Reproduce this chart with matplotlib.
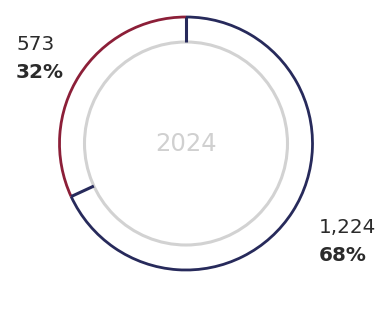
import matplotlib
matplotlib.use("Agg")
import matplotlib.pyplot as plt
from matplotlib.patches import Arc, Circle
import numpy as np

year = "2024"
categories = ["Navy segment", "Red segment"]
values = [1224, 573]
value_labels = ["1,224", "573"]
pct_labels = ["68%", "32%"]
colors = ["#272a5b", "#8c1f38"]
inner_color = "#d2d2d2"

W, H = 377, 332
fig = plt.figure(figsize=(W / 100, H / 100), dpi=100)
ax = fig.add_axes([0, 0, 1, 1])
ax.set_xlim(0, W)
ax.set_ylim(0, H)
ax.set_aspect("equal")
ax.axis("off")

cx, cy = 186, H - 143.5
r_out, r_in = 126.5, 101.5

# inner reference ring
ax.add_patch(Circle((cx, cy), r_in, fill=False, ec=inner_color, lw=2.2))

# outer ring segments; first segment runs clockwise from 12 o'clock
total = sum(values)
start = 90.0
for v, c in zip(values, colors):
    sweep = 360.0 * v / total
    end = start - sweep
    ax.add_patch(Arc((cx, cy), 2 * r_out, 2 * r_out, theta1=end, theta2=start,
                     color=c, lw=2.0))
    start = end

# separators at the boundaries between segments
ang = 90.0
for v in values:
    a = np.deg2rad(ang)
    ax.plot([cx + r_in * np.cos(a), cx + r_out * np.cos(a)],
            [cy + r_in * np.sin(a), cy + r_out * np.sin(a)],
            color=colors[0], lw=2.2, solid_capstyle="butt")
    ang -= 360.0 * v / total

font = "DejaVu Sans"
ax.text(cx + 0.5, cy - 0.5, year, ha="center", va="center", fontsize=17.5,
        color="#d0d0d0", family=font)

fs = 14.4
ax.text(16, H - 50.5, value_labels[1], ha="left", va="baseline", fontsize=fs,
        color="#2b2b2b", family=font)
ax.text(16, H - 78, pct_labels[1], ha="left", va="baseline", fontsize=fs,
        color="#2b2b2b", family=font, fontweight="bold")
ax.text(319, H - 233, value_labels[0], ha="left", va="baseline", fontsize=fs,
        color="#2b2b2b", family=font)
ax.text(319, H - 261, pct_labels[0], ha="left", va="baseline", fontsize=fs,
        color="#2b2b2b", family=font, fontweight="bold")

fig.savefig("out.png", dpi=100, facecolor="white")
